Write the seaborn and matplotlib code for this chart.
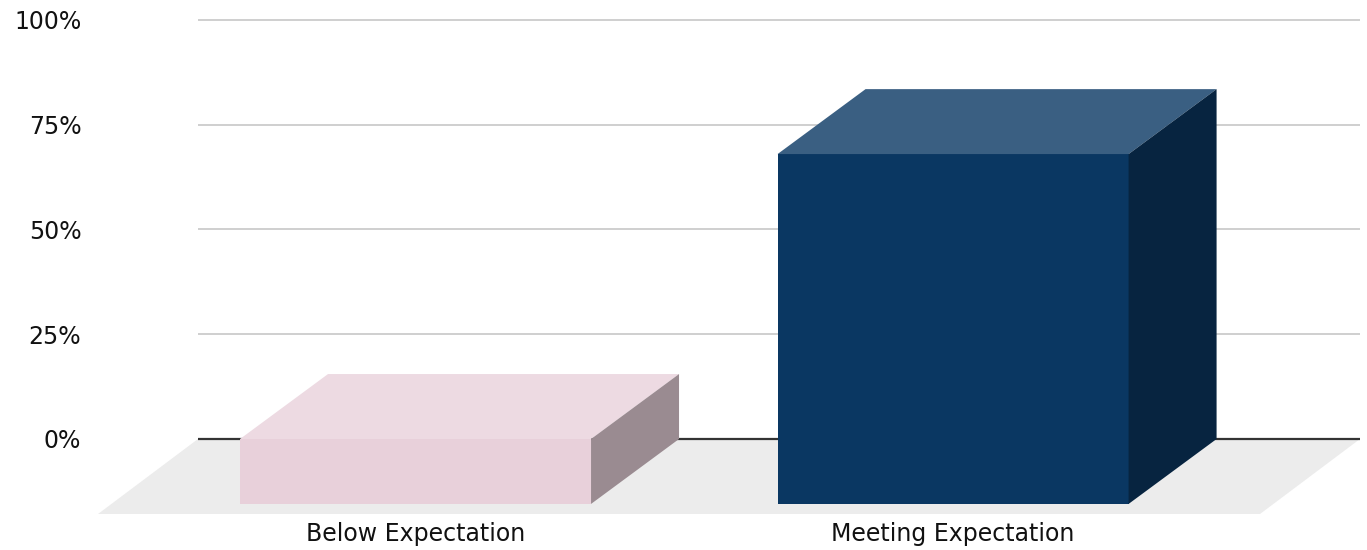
import matplotlib
matplotlib.use("Agg")
import matplotlib.pyplot as plt
from matplotlib.patches import Polygon
import seaborn as sns
import pandas as pd

# ---- data ----
categories = ["Below Expectation", "Meeting Expectation"]
values = [15.5, 83.5]
y_ticks = [0, 25, 50, 75, 100]
y_tick_labels = ["0%", "25%", "50%", "75%", "100%"]

# ---- style ----
front_colors = ["#e8d0da", "#0a3762"]
top_colors = ["#eddae2", "#3a5f82"]
side_colors = ["#9a8b91", "#072440"]
floor_color = "#ececec"
grid_color = "#cccccc"
zero_color = "#333333"
bar_width = 0.653
bar_depth = (0.1637, 15.5)     # (category units, percent units)
floor_depth = (0.186, 17.9)

sns.set_theme(style="white")
plt.rcParams["font.family"] = ["DejaVu Sans"]

fig = plt.figure(figsize=(13.67, 5.5), dpi=100)
ax = fig.add_axes([98 / 1367, 36 / 550, (1360 - 98) / 1367, 504 / 550])

df = pd.DataFrame({"category": categories, "value": values})
sns.barplot(data=df, x="category", y="value", hue="category",
            palette=front_colors, width=bar_width, legend=False,
            saturation=1, ax=ax, zorder=5, linewidth=0)
bars = list(ax.patches)

xlim = (-0.5907, 1.757)
ylim = (-floor_depth[1], 102.385)
ax.set_xlim(*xlim)
ax.set_ylim(*ylim)

# floor
fdx, fdy = floor_depth
floor = Polygon([(xlim[0], -fdy), (xlim[0] + fdx, 0), (xlim[1], 0),
                 (xlim[1] - fdx, -fdy)], closed=True,
                facecolor=floor_color, edgecolor="none", zorder=1)
ax.add_patch(floor)

# back-wall gridlines
wall_left = xlim[0] + fdx
for t in y_ticks:
    ax.hlines(t, wall_left, xlim[1],
              colors=zero_color if t == 0 else grid_color,
              linewidth=1.6 if t == 0 else 1.3, zorder=2, clip_on=False)

# 3D faces for each bar
bdx, bdy = bar_depth
for i, p in enumerate(bars):
    x0 = p.get_x()
    w = p.get_width()
    h = p.get_height()
    p.set_y(p.get_y() - bdy)
    x1 = x0 + w
    bottom = -bdy
    top = h - bdy
    top_face = Polygon([(x0, top), (x0 + bdx, top + bdy), (x1 + bdx, top + bdy),
                        (x1, top)], closed=True, facecolor=top_colors[i],
                       edgecolor="none", zorder=5)
    side_face = Polygon([(x1, bottom), (x1 + bdx, bottom + bdy),
                         (x1 + bdx, top + bdy), (x1, top)], closed=True,
                        facecolor=side_colors[i], edgecolor="none", zorder=5)
    ax.add_patch(top_face)
    ax.add_patch(side_face)

ax.set_yticks(y_ticks)
ax.set_yticklabels(y_tick_labels)
ax.set_xlabel("")
ax.set_ylabel("")
ax.tick_params(axis="y", length=0, pad=12, labelsize=17, labelcolor="#111111")
ax.tick_params(axis="x", length=0, pad=6, labelsize=17, labelcolor="#111111")
for s in ax.spines.values():
    s.set_visible(False)
ax.grid(False)

fig.savefig("out.png", dpi=100)
